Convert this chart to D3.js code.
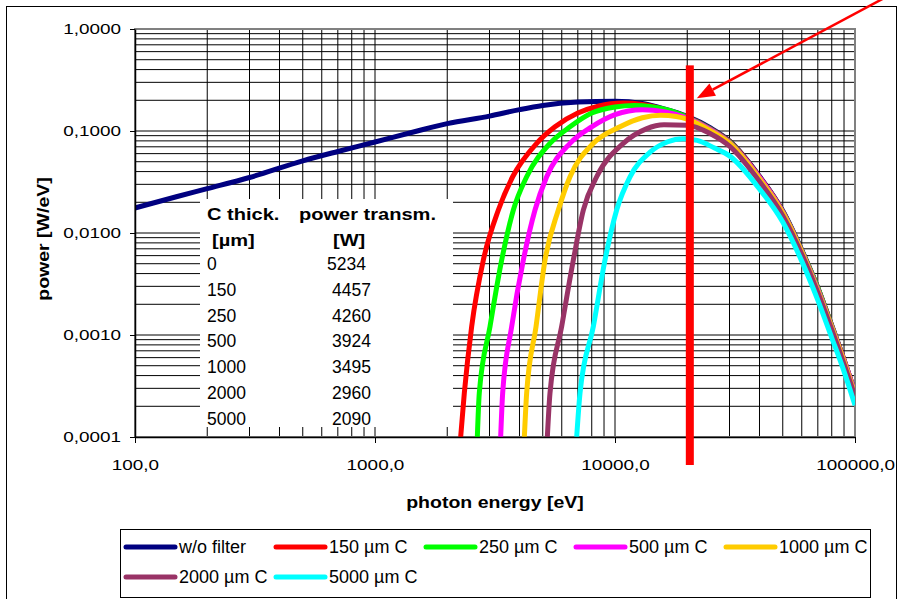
<!DOCTYPE html>
<html>
<head>
<meta charset="utf-8">
<script src="https://cdn.jsdelivr.net/npm/d3@7"></script>
<style>
  body { margin: 0; background: #fff; }
  svg { display: block; font-family: Arial, "Liberation Sans", sans-serif; }
</style>
</head>
<body>
<svg id="chart"></svg>
<script>
// [photon energy eV, power W/eV]
const noFilter = [[100, 0.0176], [150, 0.0228], [200, 0.0272], [300, 0.035], [500, 0.051], [700, 0.063],
    [1000, 0.078], [1500, 0.1], [2000, 0.118], [3000, 0.14], [4000, 0.162], [5000, 0.178], [7000, 0.192],
    [10000, 0.196], [13000, 0.186], [16000, 0.165], [20000, 0.139], [25000, 0.107], [30000, 0.08],
    [40000, 0.036], [50000, 0.0165], [60000, 0.0068], [70000, 0.0029], [80000, 0.00124], [90000, 0.00057], [100000, 0.00027]]
const carbon150 = [[2275, 0.0001], [2356, 0.00027], [2528, 0.00121], [2828, 0.00543], [3266, 0.0168], [3746, 0.0356],
    [4717, 0.0757], [5623, 0.11], [7000, 0.15], [8500, 0.175], [10800, 0.188], [13000, 0.182], [16000, 0.163],
    [20000, 0.137], [25000, 0.105], [30000, 0.079], [40000, 0.0355], [50000, 0.0163], [60000, 0.0067],
    [70000, 0.0029], [80000, 0.00123], [90000, 0.00057], [100000, 0.00027]]
const carbon250 = [[2669, 0.0001], [2720, 0.00027], [3014, 0.00121], [3372, 0.00543], [3771, 0.0168], [4285, 0.0356],
    [5360, 0.0757], [6494, 0.11], [8000, 0.15], [10000, 0.172], [12000, 0.178], [14000, 0.174], [17000, 0.158],
    [20000, 0.136], [25000, 0.104], [30000, 0.078], [40000, 0.035], [50000, 0.0162], [60000, 0.0067],
    [70000, 0.0029], [80000, 0.00122], [90000, 0.00056], [100000, 0.00027]]
const carbon500 = [[3339, 0.0001], [3404, 0.00027], [3711, 0.00121], [4151, 0.00543], [4642, 0.0168], [5192, 0.0356],
    [6494, 0.0757], [7994, 0.11], [10000, 0.145], [13000, 0.162], [16000, 0.155], [20000, 0.134], [25000, 0.103],
    [30000, 0.077], [40000, 0.035], [50000, 0.016], [60000, 0.0066], [70000, 0.0028], [80000, 0.0012],
    [90000, 0.00056], [100000, 0.00027]]
const carbon1000 = [[4191, 0.0001], [4285, 0.00027], [4688, 0.00121], [5109, 0.00543], [5806, 0.0168], [6494, 0.0356],
    [8123, 0.0757], [10490, 0.11], [13000, 0.135], [15500, 0.143], [18000, 0.139], [20000, 0.131], [25000, 0.101],
    [30000, 0.076], [40000, 0.034], [50000, 0.0157], [60000, 0.0065], [70000, 0.0027], [80000, 0.00118],
    [90000, 0.00055], [100000, 0.00026]]
const carbon2000 = [[5225, 0.0001], [5360, 0.00027], [5995, 0.00121], [6705, 0.00543], [7379, 0.0168], [8387, 0.0356],
    [10830, 0.0757], [13500, 0.105], [16000, 0.115], [20000, 0.114], [25000, 0.094], [30000, 0.071], [40000, 0.032],
    [50000, 0.0148], [60000, 0.0062], [70000, 0.0026], [80000, 0.00113], [90000, 0.00052], [100000, 0.00025]]
const carbon5000 = [[6924, 0.0001], [7149, 0.00027], [8123, 0.00121], [9085, 0.00543], [10160, 0.0168], [11550, 0.0356],
    [14000, 0.062], [16500, 0.078], [19200, 0.084], [22000, 0.081], [26000, 0.068], [30000, 0.057], [40000, 0.027],
    [50000, 0.0128], [60000, 0.0053], [70000, 0.0022], [80000, 0.00094], [90000, 0.00044], [100000, 0.000205]]

const seriesNames = ['w/o filter', '150 µm C', '250 µm C', '500 µm C', '1000 µm C', '2000 µm C', '5000 µm C']
const seriesColors = ['#000080', '#ff0000', '#00ff00', '#ff00ff', '#ffcc00', '#993366', '#00ffff']

// inset table
const tableHeader = [['C thick.', 'power transm.'], ['[µm]', '[W]']]
const thicknessRows = ['0', '150', '250', '500', '1000', '2000', '5000']
const powerRows = ['5234', '4457', '4260', '3924', '3495', '2960', '2090']

const xTicks = [100, 1000, 10000, 100000]
const yTicks = [1, 0.1, 0.01, 0.001, 0.0001]
const markerEnergy = 20500

class SpectrumChart {
    constructor() {
        this.width = 901
        this.height = 599
        // plot area
        this.left = 135
        this.right = 855
        this.top = 29
        this.bottom = 437
        this.stretch = 1.22
        this.draw()
    }

    draw() {
        let that = this
        let svg = d3.select('#chart').attr('width', this.width).attr('height', this.height)

        svg.append('rect').attr('width', this.width).attr('height', this.height).attr('fill', '#fff')
        svg.append('rect').attr('x', 6.5).attr('y', 6.5).attr('width', 890).attr('height', 640)
            .attr('fill', 'none').attr('stroke', '#000')

        let xScale = d3.scaleLog().domain([100, 100000]).range([this.left, this.right])
        let yScale = d3.scaleLog().domain([0.0001, 1]).range([this.bottom, this.top])

        // log gridlines, 1..9 per decade
        let gridX = [], gridY = []
        for (let e = 2; e < 5; e++) for (let k = 1; k < 10; k++) gridX.push(k * Math.pow(10, e))
        gridX.push(100000)
        for (let e = -4; e < 0; e++) for (let k = 1; k < 10; k++) gridY.push(k * Math.pow(10, e))
        gridY.push(1)

        let grid = svg.append('g').attr('stroke', '#000').attr('stroke-width', 1)
        grid.selectAll('.gx').data(gridX).join('line').attr('class', 'gx')
            .attr('x1', d => xScale(d)).attr('x2', d => xScale(d))
            .attr('y1', this.top).attr('y2', this.bottom)
        grid.selectAll('.gy').data(gridY).join('line').attr('class', 'gy')
            .attr('y1', d => yScale(d)).attr('y2', d => yScale(d))
            .attr('x1', this.left).attr('x2', this.right)

        svg.append('rect').attr('x', this.left).attr('y', this.top)
            .attr('width', this.right - this.left).attr('height', this.bottom - this.top)
            .attr('fill', 'none').attr('stroke', '#808080').attr('stroke-width', 2)

        // white box behind the table
        svg.append('rect').attr('x', 200).attr('y', 199).attr('width', 253).attr('height', 228).attr('fill', '#fff')

        svg.append('clipPath').attr('id', 'plotclip').append('rect')
            .attr('x', this.left).attr('y', this.top)
            .attr('width', this.right - this.left).attr('height', this.bottom - this.top)

        let allSeries = [noFilter, carbon150, carbon250, carbon500, carbon1000, carbon2000, carbon5000]
        let line = d3.line().x(d => xScale(d[0])).y(d => yScale(d[1])).curve(d3.curveMonotoneX)
        svg.append('g').attr('clip-path', 'url(#plotclip)')
            .selectAll('path').data(allSeries).join('path')
            .attr('fill', 'none')
            .attr('stroke', (d, i) => seriesColors[i])
            .attr('stroke-width', 5)
            .attr('stroke-linejoin', 'round')
            .attr('d', d => line(d))

        // axes
        let xAxis = d3.axisBottom(xScale).tickValues(xTicks)
            .tickFormat(d => d.toFixed(1).replace('.', ','))
            .tickSizeInner(6).tickSizeOuter(0).tickPadding(16)
        let gx = svg.append('g').attr('transform', `translate(0,${this.bottom})`).call(xAxis)
        let yAxis = d3.axisLeft(yScale).tickValues(yTicks)
            .tickFormat(d => d.toFixed(4).replace('.', ','))
            .tickSizeInner(5).tickSizeOuter(0).tickPadding(6.5)
        let gy = svg.append('g').attr('transform', `translate(${this.left},0)`).call(yAxis)

        for (let g of [gx, gy]) {
            g.attr('font-family', null).attr('font-size', null)
            g.select('.domain').attr('stroke', '#000').attr('stroke-width', 1.5)
            g.selectAll('line').attr('stroke', '#000')
            g.selectAll('text')
                .style('font', '15.5px Arial, "Liberation Sans", sans-serif')
                .attr('fill', '#000')
                .attr('transform', `scale(${that.stretch},1)`)
        }

        svg.append('text')
            .attr('transform', `translate(495,508) scale(${this.stretch},1)`)
            .attr('text-anchor', 'middle').attr('font-weight', 'bold').attr('font-size', 16)
            .text('photon energy [eV]')
        svg.append('text')
            .attr('transform', `translate(48.5,239) rotate(-90) scale(${this.stretch},1)`)
            .attr('text-anchor', 'middle').attr('font-weight', 'bold').attr('font-size', 16)
            .text('power [W/eV]')

        // table text
        let table = svg.append('g').attr('fill', '#000')
        let colX = [207, 299]
        tableHeader.forEach((row, r) => {
            row.forEach((t, c) => {
                let x = r === 0 ? colX[c] : [212, 333][c]
                table.append('text')
                    .attr('transform', `translate(${x},${220 + r * 26}) scale(1.18,1)`)
                    .attr('font-weight', 'bold').attr('font-size', 17)
                    .text(t)
            })
        })
        table.selectAll('.thick').data(thicknessRows).join('text').attr('class', 'thick')
            .attr('x', 207).attr('y', (d, i) => 270 + i * 25.8)
            .attr('font-size', 17.5).text(d => d)
        table.selectAll('.pow').data(powerRows).join('text').attr('class', 'pow')
            .attr('x', (d, i) => i === 0 ? 327 : 332).attr('y', (d, i) => 270 + i * 25.8)
            .attr('font-size', 17.5).text(d => d)

        // red marker bar and arrow
        let bx = xScale(markerEnergy)
        svg.append('rect').attr('x', bx - 4).attr('y', yScale(0.44)).attr('width', 8)
            .attr('height', 465 - yScale(0.44)).attr('fill', '#ff0000')

        let tip = [bx + 7, yScale(0.21)]
        let start = [888, -4]
        let dx = start[0] - tip[0], dy = start[1] - tip[1]
        let len = Math.sqrt(dx * dx + dy * dy)
        let ux = dx / len, uy = dy / len
        let base = [tip[0] + ux * 18, tip[1] + uy * 18]
        svg.append('line').attr('x1', start[0]).attr('y1', start[1]).attr('x2', base[0]).attr('y2', base[1])
            .attr('stroke', '#ff0000').attr('stroke-width', 2.5)
        svg.append('polygon')
            .attr('points', [tip, [base[0] - uy * 7, base[1] + ux * 7], [base[0] + uy * 7, base[1] - ux * 7]].map(p => p.join(',')).join(' '))
            .attr('fill', '#ff0000')

        // legend
        let legend = svg.append('g')
        legend.append('rect').attr('x', 120.5).attr('y', 529.5).attr('width', 750).attr('height', 68)
            .attr('fill', '#fff').attr('stroke', '#000')
        let items = legend.selectAll('.item').data(seriesNames).join('g').attr('class', 'item')
            .attr('transform', (d, i) => `translate(${126 + (i % 5) * 150},${547 + Math.floor(i / 5) * 30})`)
        items.append('line').attr('x1', 0).attr('x2', 49)
            .attr('stroke', (d, i) => seriesColors[i]).attr('stroke-width', 5).attr('stroke-linecap', 'round')
        items.append('text').attr('x', 53).attr('dy', '0.36em').attr('font-size', 18).text(d => d)
    }
}

new SpectrumChart()
</script>
</body>
</html>
